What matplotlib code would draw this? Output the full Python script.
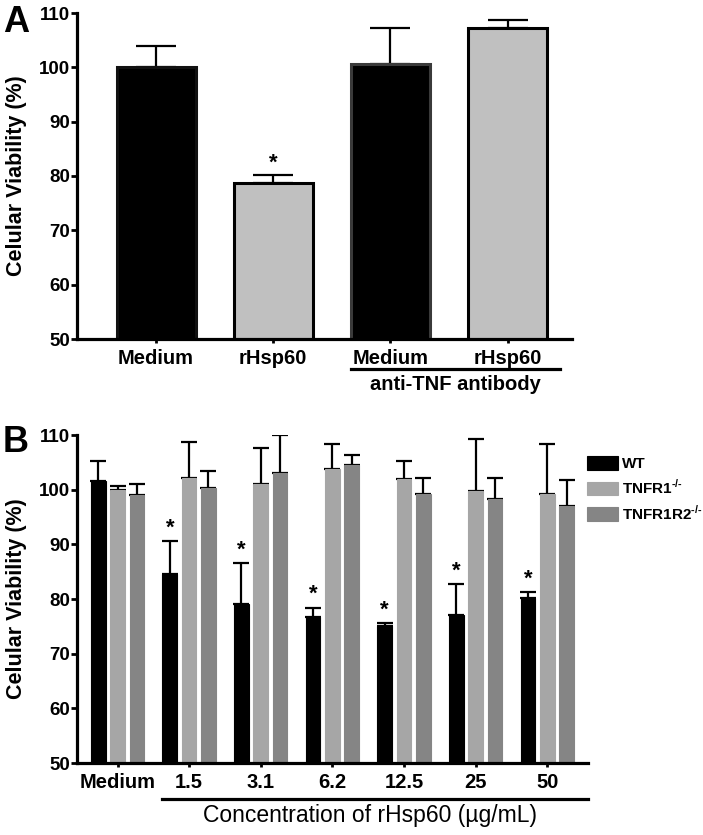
import numpy as np
import matplotlib
matplotlib.use('Agg')
from matplotlib import pyplot as plt
import matplotlib.transforms as mtransforms

# panel A data
a_labels = ['Medium', 'rHsp60', 'Medium', 'rHsp60']
a_means = [100.0, 78.8, 100.6, 107.3]
a_errs = [4.0, 1.3, 6.7, 1.4]
a_stars = [False, True, False, False]

# panel B data
b_groups = ['Medium', '1.5', '3.1', '6.2', '12.5', '25', '50']
wt_means = [101.5, 84.6, 79.1, 76.7, 75.1, 77.0, 80.1]
wt_errs = [3.7, 6.0, 7.4, 1.7, 0.5, 5.7, 1.1]
r1_means = [100.0, 102.1, 101.0, 103.8, 101.9, 99.8, 99.2]
r1_errs = [0.7, 6.6, 6.7, 4.6, 3.4, 9.4, 9.1]
r12_means = [99.0, 100.3, 103.0, 104.5, 99.2, 98.3, 97.1]
r12_errs = [2.0, 3.1, 7.0, 1.8, 2.9, 3.8, 4.7]
wt_stars = [False, True, True, True, True, True, True]
series_names = ['WT', r'TNFR1$^{\text{-/-}}$', r'TNFR1R2$^{\text{-/-}}$']

W, H = 703, 835
SANS = 'Liberation Sans'
plt.rcParams['mathtext.fontset'] = 'custom'
plt.rcParams['mathtext.rm'] = 'Liberation Sans:bold'
plt.rcParams['mathtext.bf'] = 'Liberation Sans:bold'

fig = plt.figure(figsize=(W / 100, H / 100), dpi=100)


def px_axes(left, top, right, bottom):
    return fig.add_axes([left / W, 1 - bottom / H, (right - left) / W, (bottom - top) / H])


def style_axes(ax):
    for s in ['top', 'right']:
        ax.spines[s].set_visible(False)
    for s in ['left', 'bottom']:
        ax.spines[s].set_linewidth(2.3)
    ax.set_ylim(50, 110)
    ax.set_yticks(np.arange(50, 111, 10))
    ax.tick_params(axis='y', length=4, width=2, pad=1)
    ax.tick_params(axis='x', length=3, width=2, pad=4)
    for t in ax.get_yticklabels():
        t.set_fontfamily(SANS)
        t.set_fontweight('bold')
        t.set_fontsize(13.5)


# ---------- Panel A ----------
axA = px_axes(77, 13, 572, 339)
xa = np.arange(len(a_means))
a_colors = ['black', '#c0c0c0', 'black', '#c0c0c0']
a_edges = ['#111111', 'black', '#3a3a3a', 'black']
bw = 0.675
axA.errorbar(xa, a_means, yerr=[np.zeros(4), a_errs], fmt='none', ecolor='black',
             elinewidth=1.6, capsize=14.5, capthick=1.6, zorder=1)
axA.bar(xa, a_means, width=bw, bottom=0, color=a_colors, edgecolor=a_edges,
        linewidth=2.2, zorder=2)
for i, s in enumerate(a_stars):
    if s:
        axA.text(xa[i], a_means[i] + a_errs[i] + 0.4, '*', ha='center', va='bottom',
                 fontsize=16, fontweight='bold', family=SANS)
axA.set_xlim(-0.675, 3.55)
style_axes(axA)
axA.set_xticks(xa)
axA.set_xticklabels(a_labels, fontsize=14.5, fontweight='bold', family=SANS)
transA = mtransforms.blended_transform_factory(axA.transData, axA.transAxes)
axA.plot([1.663, 3.45], [-0.093, -0.093], color='black', lw=2.3, transform=transA,
         clip_on=False)
axA.text(2.556, -0.11, 'anti-TNF antibody', transform=transA, ha='center', va='top',
         fontsize=14.5, fontweight='bold', family=SANS)

# ---------- Panel B ----------
axB = px_axes(77, 435, 588, 763)
xb = np.arange(len(b_groups))
off = 0.27
bwb = 0.205
colors = ['black', '#a6a6a6', '#858585']
for k, (m, e) in enumerate([(wt_means, wt_errs), (r1_means, r1_errs), (r12_means, r12_errs)]):
    xs = xb + (k - 1) * off
    axB.errorbar(xs, m, yerr=[np.zeros(len(m)), e], fmt='none', ecolor='black',
                 elinewidth=1.6, capsize=5.5, capthick=1.6, zorder=1)
    axB.bar(xs, m, width=bwb, color=colors[k], edgecolor=colors[k], linewidth=0.8,
            label=series_names[k], zorder=2)
for i, s in enumerate(wt_stars):
    if s:
        axB.text(xb[i] - off, wt_means[i] + wt_errs[i] + 0.5, '*', ha='center', va='bottom',
                 fontsize=16, fontweight='bold', family=SANS)
axB.set_xlim(-0.566, 6.57)
style_axes(axB)
axB.set_xticks(xb)
axB.set_xticklabels(b_groups, fontsize=14.5, fontweight='bold', family=SANS)
transB = mtransforms.blended_transform_factory(axB.transData, axB.transAxes)
axB.plot([0.62, 6.57], [-0.11, -0.11], color='black', lw=2.3, transform=transB,
         clip_on=False)
axB.text(3.52, -0.125, 'Concentration of rHsp60 (µg/mL)', transform=transB, ha='center',
         va='top', fontsize=16.5, family=SANS)

leg = axB.legend(loc='upper left', bbox_to_anchor=(0.998, 0.935), frameon=False,
                 handlelength=2.0, handleheight=1.0, handletextpad=0.3, labelspacing=0.45,
                 borderaxespad=0.0, borderpad=0.0,
                 prop={'family': SANS, 'weight': 'bold', 'size': 11})

# ylabels and panel letters
for yc in [176, 599]:
    fig.text(17 / W, 1 - yc / H, 'Celular Viability (%)', rotation=90, ha='center',
             va='center', fontsize=15.5, fontweight='bold', family=SANS)
fig.text(3 / W, 1 - 22 / H, 'A', ha='left', va='center', fontsize=26, fontweight='bold',
         family=SANS)
fig.text(3 / W, 1 - 443 / H, 'B', ha='left', va='center', fontsize=26, fontweight='bold',
         family=SANS)

fig.savefig('out.png', dpi=100)
